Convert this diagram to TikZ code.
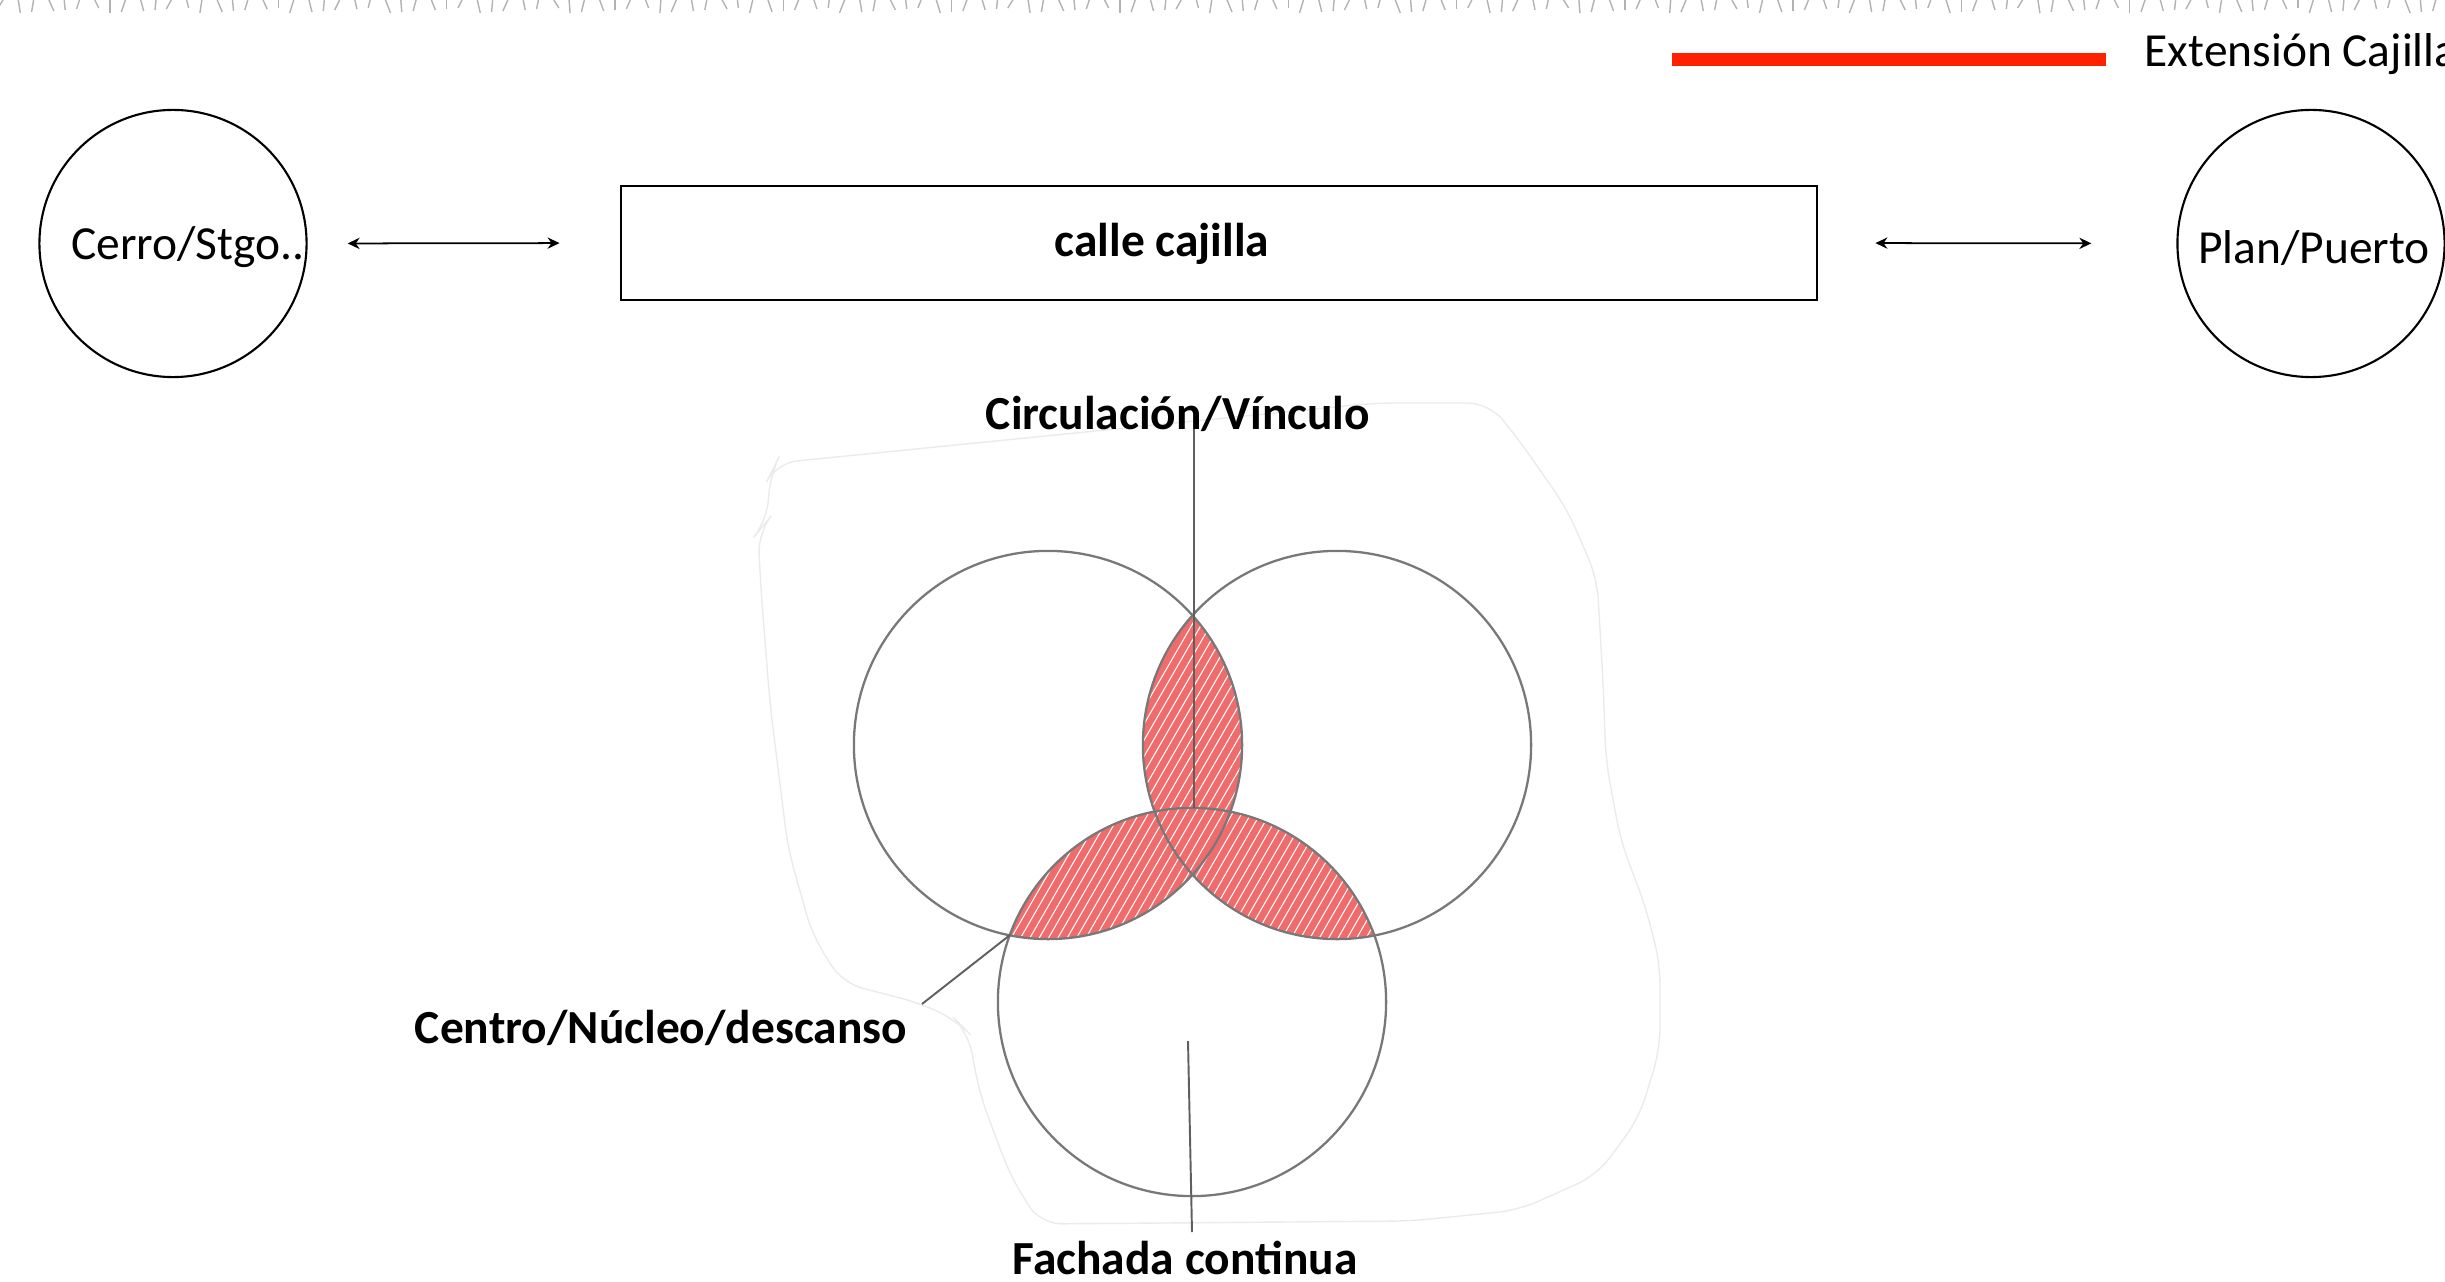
\documentclass[tikz,border=0pt]{standalone}
\usepackage{fontspec}
\setmainfont{Carlito}
\usetikzlibrary{arrows.meta,patterns.meta}
\definecolor{legred}{RGB}{255,34,0}
\definecolor{lensred}{RGB}{240,108,108}
\definecolor{vgray}{RGB}{120,120,120}
\definecolor{leadgray}{RGB}{95,95,95}
\begin{document}
\begin{tikzpicture}[x=0.01cm,y=-0.01cm,
  every node/.style={font=\fontsize{13.5}{16}\selectfont, inner sep=0pt},
  bubble/.style={draw, circle, minimum size=2.67cm, line width=0.6pt},
  streetbox/.style={draw, rectangle, minimum width=11.96cm, minimum height=1.14cm, line width=0.6pt},
  link/.style={{Stealth[length=3.4pt,width=3.2pt]}-{Stealth[length=3.4pt,width=3.2pt]}, line width=0.5pt},
  ring/.style={vgray, line width=0.65pt},
  leader/.style={leadgray, line width=0.55pt},
  sketch/.style={black!8, line width=0.4pt},
  lensfill/.style={fill=lensred},
  lenshatch/.style={pattern={Lines[angle=60,distance=2.3pt,line width=0.3pt]}, pattern color=white}
  ]
\useasboundingbox (0,0) rectangle (2445,1282);

% faint strip of sketch at the top edge
\foreach \i in {0,...,159}{
  \pgfmathsetmacro{\dx}{mod(\i*7,11)-5}
  \pgfmathsetmacro{\hh}{8+mod(\i*5,6)}
  \draw[gray!60, line width=0.4pt] (\i*15.3+3,0) -- ++(\dx,\hh);
}

% legend
\draw[legred, line width=3.6pt] (1672,59.5) -- (2106,59.5);
\node[anchor=base west] (legtext) at (2144,67) {Extensión Cajilla};

% top row
\node[bubble] (cerro) at (173,243.5) {};
\node[anchor=base] (cerrotxt) at (188,260) {Cerro/Stgo..};
\node[streetbox] (calle) at (1219,243) {};
\node[anchor=base, font=\fontsize{13.5}{16}\selectfont\bfseries] (calletxt) at (1162,257) {calle cajilla};
\node[bubble] (plan) at (2311,243.5) {};
\node[anchor=base] (plantxt) at (2314,264) {Plan/Puerto};

\draw[link, shorten <=0.4cm, shorten >=0.6cm] (cerro.east) -- (calle.west);
\draw[link, shorten <=0.57cm, shorten >=0.85cm] (calle.east) -- (plan.west);

% faint hand-drawn outline around the diagram
\draw[sketch, rounded corners=6pt] (776,463) -- (1375,403) -- (1489,403) -- (1519,440) -- (1567,509) -- (1597,578) -- (1603,681) -- (1606,762) -- (1621,842) -- (1645,905) -- (1660,963) -- (1660,1049) -- (1639,1118) -- (1597,1175) -- (1519,1210) -- (1411,1221) -- (1040,1224) -- (1010,1175) -- (980,1095) -- (968,1032) -- (956,1020) -- (920,1003) -- (842,983) -- (812,934) -- (788,848) -- (770,704) -- (761,590) -- (758,532) -- (767,521) -- (770,475) -- cycle;

% venn circles
\coordinate (cTL) at (1048,745);
\coordinate (cTR) at (1337,745);
\coordinate (cB) at (1192,1002);

\begin{scope}
  \clip (cTL) circle[radius=1.94cm];
  \fill[lensfill] (cTR) circle[radius=1.94cm];
  \fill[lensfill] (cB) circle[radius=1.94cm];
  \fill[lenshatch] (cTR) circle[radius=1.94cm];
  \fill[lenshatch] (cB) circle[radius=1.94cm];
\end{scope}
\begin{scope}
  \clip (cTR) circle[radius=1.94cm];
  \fill[lensfill] (cB) circle[radius=1.94cm];
  \fill[lenshatch] (cB) circle[radius=1.94cm];
\end{scope}

\draw[ring] (cTL) circle[radius=1.94cm];
\draw[ring] (cTR) circle[radius=1.94cm];
\draw[ring] (cB) circle[radius=1.94cm];

% labels
\node[anchor=base, font=\fontsize{13.5}{16}\selectfont\bfseries] (circ) at (1178,429) {Circulación/Vínculo};
\node[anchor=base, font=\fontsize{13.5}{16}\selectfont\bfseries] (centro) at (661,1043) {Centro/Núcleo/descanso};
\node[anchor=base, font=\fontsize{13.5}{16}\selectfont\bfseries] (fach) at (1185,1274) {Fachada continua};

% leaders
\coordinate (ctop) at (1194,808);
\draw[leader] (ctop) -- (ctop |- circ.base);
\coordinate (lensL) at (1010,935);
\coordinate (centroend) at (922,1004);
\draw[leader] (lensL) -- (centroend);
\coordinate (ftop) at (1188,1041);
\coordinate (fbot) at (1192,1232);
\draw[leader] (ftop) -- (fbot);
\end{tikzpicture}
\end{document}
